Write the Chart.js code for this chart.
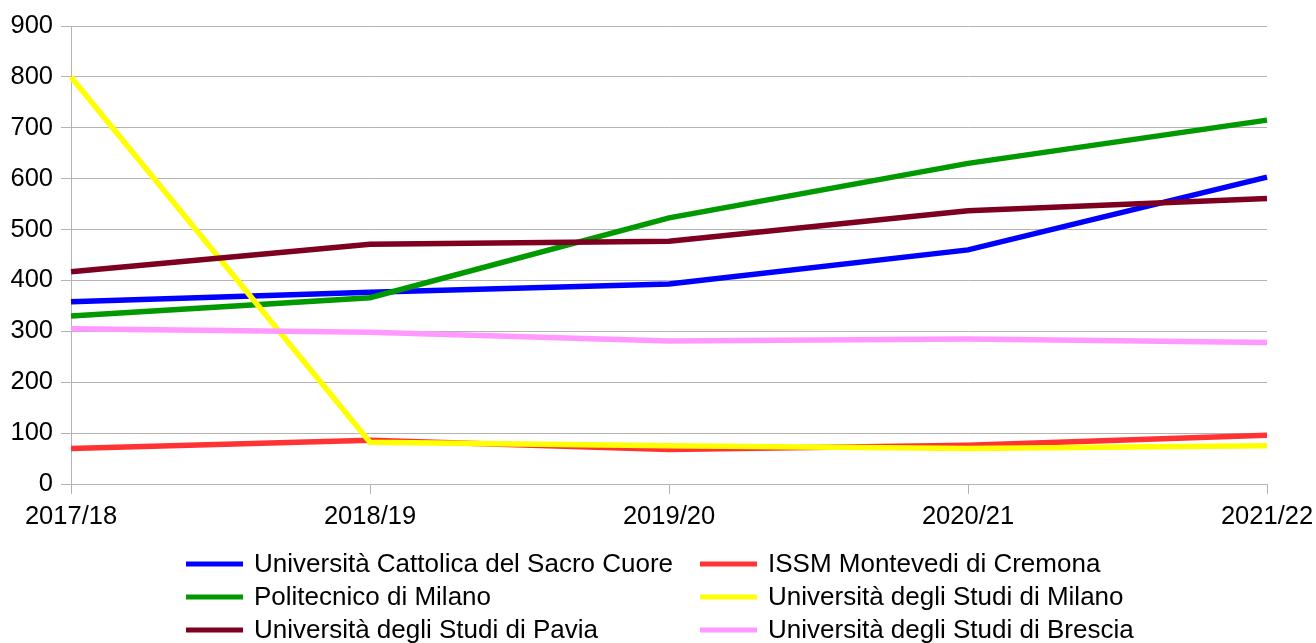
<!DOCTYPE html>
<html>
<head>
<meta charset="utf-8">
<script src="https://cdn.jsdelivr.net/npm/chart.js@4/dist/chart.umd.min.js"></script>
<style>
  html, body { margin: 0; padding: 0; background: #fff; }
  #wrap { width: 1316px; height: 643px; }
</style>
</head>
<body>
<div id="wrap"><canvas id="lineChart" width="1316" height="643"></canvas></div>
<script>
var years = ["2017/18", "2018/19", "2019/20", "2020/21", "2021/22"];

var cattolica = [358, 377, 393, 460, 603];
var issm = [70, 86, 68, 76, 96];
var politecnico = [330, 366, 523, 630, 715];
var statale = [800, 82, 75, 70, 75];
var pavia = [417, 471, 477, 537, 561];
var brescia = [305, 298, 281, 285, 278];

var seriesNames = [
  "Università Cattolica del Sacro Cuore",
  "ISSM Montevedi di Cremona",
  "Politecnico di Milano",
  "Università degli Studi di Milano",
  "Università degli Studi di Pavia",
  "Università degli Studi di Brescia"
];
var seriesColors = ["#0000ff", "#ff3333", "#009900", "#ffff00", "#7e0021", "#ff99ff"];
var seriesData = [cattolica, issm, politecnico, statale, pavia, brescia];

var fontName = "'Liberation Sans', Arial, sans-serif";

//legend in two columns under the plot, like the office export
var gridLegend = {
  id: 'gridLegend',
  afterDraw: function(chart) {
    var ctx = chart.ctx;
    var cols = [186, 700];
    var rows = [564, 597, 630];
    ctx.save();
    ctx.font = "26px " + fontName;
    ctx.textBaseline = "middle";
    ctx.textAlign = "left";
    chart.data.datasets.forEach(function(ds, i) {
      var x = cols[i % 2];
      var y = rows[Math.floor(i / 2)];
      ctx.strokeStyle = ds.borderColor;
      ctx.lineWidth = 5;
      ctx.beginPath();
      ctx.moveTo(x, y);
      ctx.lineTo(x + 57, y);
      ctx.stroke();
      ctx.fillStyle = "#000";
      ctx.fillText(ds.label, x + 68, y + 1);
    });
    ctx.restore();
  }
};

var datasets = seriesData.map(function(d, i) {
  return {
    label: seriesNames[i],
    data: d,
    borderColor: seriesColors[i],
    backgroundColor: seriesColors[i],
    borderWidth: 5.5,
    pointRadius: 0,
    tension: 0,
    order: seriesData.length - i
  };
});

var lineCanv = document.getElementById("lineChart");
var linePlot = new Chart(lineCanv, {
  type: 'line',
  data: {
    labels: years,
    datasets: datasets
  },
  options: {
    responsive: false,
    animation: false,
    layout: {
      padding: 0
    },
    plugins: {
      legend: { display: false },
      tooltip: { enabled: false }
    },
    scales: {
      x: {
        offset: false,
        grid: {
          display: true,
          drawOnChartArea: false,
          drawTicks: true,
          tickLength: 10,
          color: "#b3b3b3"
        },
        border: { color: "#b3b3b3" },
        ticks: {
          color: "#000",
          font: { family: fontName, size: 25.5 },
          maxRotation: 0,
          padding: 8
        },
        afterFit: function(axis) {
          axis.height = 159;
          axis.paddingLeft = 0;
          axis.paddingRight = 49;
        }
      },
      y: {
        min: 0,
        max: 900,
        grid: {
          color: "#b3b3b3",
          tickLength: 10
        },
        border: { color: "#b3b3b3" },
        ticks: {
          stepSize: 100,
          color: "#000",
          font: { family: fontName, size: 25.5 },
          padding: 8
        },
        afterFit: function(axis) {
          axis.width = 71;
          axis.paddingTop = 26;
          axis.paddingBottom = 0;
        }
      }
    }
  },
  plugins: [gridLegend]
});
</script>
</body>
</html>
